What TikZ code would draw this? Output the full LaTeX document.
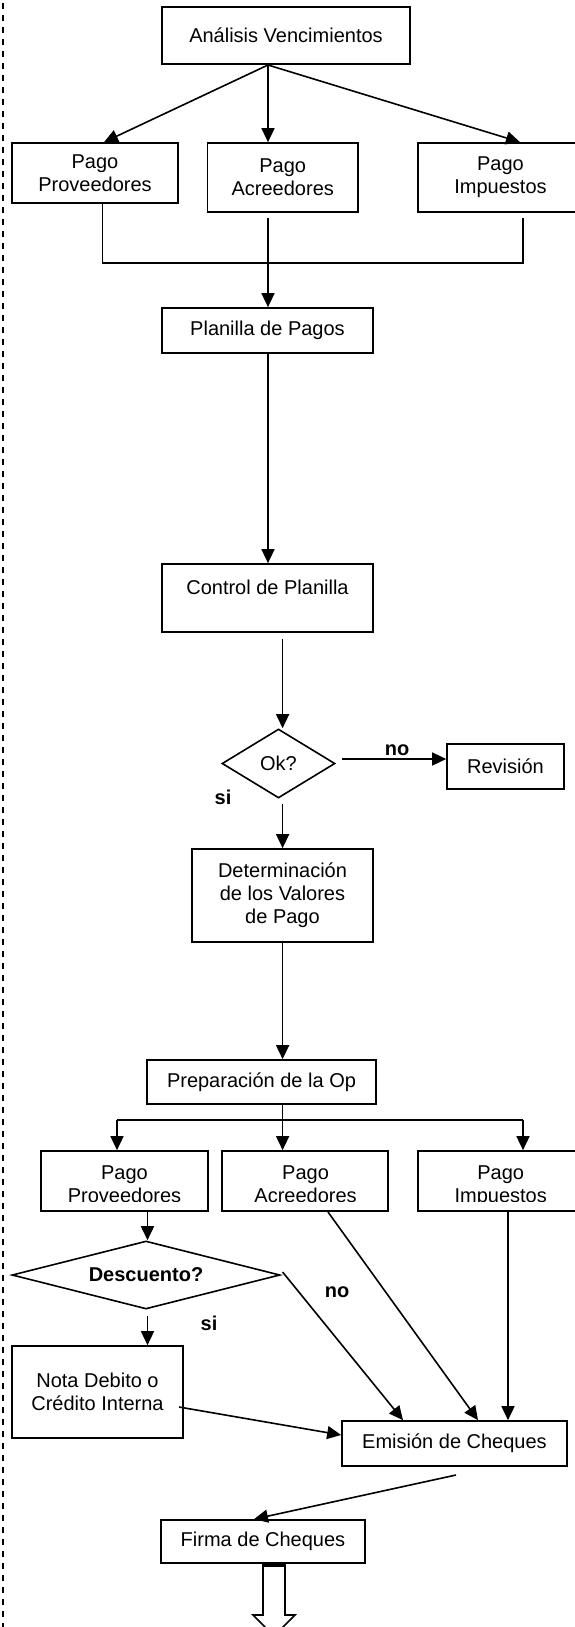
\documentclass[tikz,border=0pt]{standalone}
\usepackage{fontspec}
\setmainfont{Liberation Sans}
\usetikzlibrary{arrows.meta,shapes.geometric}
\begin{document}
\begin{tikzpicture}[x=1pt,y=-1pt,
  every node/.style={font=\fontsize{20}{23}\selectfont},
  box/.style={draw, line width=1.7pt, rectangle, inner sep=0pt, align=center},
  dec/.style={draw, line width=1.6pt, diamond, inner sep=0pt, aspect=3},
  arr/.style={line width=1.6pt, -{Triangle[length=14pt,width=13pt]}},
  ln/.style={line width=1.6pt},
  lbl/.style={font=\fontsize{20}{23}\selectfont\bfseries, inner sep=0pt},
  txt/.style={inner sep=0pt, align=center}]
\useasboundingbox (0,0) rectangle (574,1627);
\fill[white] (0,0) rectangle (574,1627);

% dashed margin line
\draw[line width=2pt, dash pattern=on 6pt off 6pt, dash phase=-3pt] (2.7,0) -- (2.7,1627);

% top part
\node[box, minimum width=248pt, minimum height=57pt] (ana) at (286,35.5) {Análisis Vencimientos};
\node[box, minimum width=166pt, minimum height=60pt] (pp1) at (95,173) {Pago\\Proveedores};
\node[box, minimum width=150.5pt, minimum height=69pt] (pa1) at (282.75,177.5) {Pago\\Acreedores};
\node[box, minimum width=165pt, minimum height=69pt] (pi1) at (500.5,177.5) {Pago\\Impuestos};

\coordinate (a0) at (268,65);
\draw[arr] (a0) -- ([xshift=9pt]pp1.north);
\draw[arr] (a0) -- (a0 |- pa1.north);
\draw[arr] (a0) -- ([xshift=19.5pt]pi1.north);

\node[box, minimum width=211pt, minimum height=45pt] (pla) at (267.5,330.5) {Planilla de Pagos};
\coordinate (c1) at (102.5,203);
\coordinate (j1) at (268,263);
\coordinate (c2) at (523,218);
\coordinate (c3) at (268,218);
\draw[ln] (c1) |- (j1) -| (c2);
\draw[arr] (c3) -- (c3 |- pla.north);

\node[box, minimum width=211pt, minimum height=68pt] (ctl) at (267.5,598) {};
\node[txt] (ctlt) at (267.5,587) {Control de Planilla};
\draw[arr] (pla.south -| c3) -- (ctl.north -| c3);

\coordinate (c4) at (282.6,639);
\node[dec, minimum width=113pt, minimum height=69pt] (ok) at (278.5,763.5) {Ok?};
\draw[arr] (c4) -- (c4 |- ok.north);

\node[box, minimum width=117pt, minimum height=45pt] (rev) at (505.5,766.5) {Revisión};
\coordinate (c5) at (342,759);
\draw[arr] (c5) -- (c5 -| rev.west);
\node[lbl] (no1) at (397,750) {no};
\node[lbl] (si1) at (223,797) {si};

\coordinate (c6) at (282.6,804);
\node[box, minimum width=181pt, minimum height=93pt] (det) at (282.5,895.5) {Determinación\\de los Valores\\de Pago};
\draw[arr] (c6) -- (c6 |- det.north);

\node[box, minimum width=229pt, minimum height=44pt] (prep) at (261.5,1082) {Preparación de la Op};
\draw[arr] (det.south -| c6) -- (prep.north -| c6);

% second row
\node[box, minimum width=167pt, minimum height=60pt] (pp2) at (124.5,1181) {};
\node[box, minimum width=166pt, minimum height=60pt] (pa2) at (305,1181) {};
\node[box, minimum width=165pt, minimum height=60pt] (pi2) at (500.5,1181) {};
\begin{scope}
\clip (0,1151) rectangle (574,1201);
\node[txt] (pp2t) at (124.5,1184) {Pago\\Proveedores};
\node[txt] (pa2t) at (305.6,1184) {Pago\\Acreedores};
\node[txt] (pi2t) at (500.7,1186) {Pago\\Impuestos};
\end{scope}

\coordinate (c7) at (282.6,1120);
\coordinate (hl) at (117,1120);
\coordinate (hr) at (523,1120);
\draw[ln] (prep.south -| c7) -- (c7);
\draw[ln] (hl) -- (hr);
\draw[arr] (hl) -- (hl |- pp2.north);
\draw[arr] (c7) -- (c7 |- pa2.north);
\draw[arr] (hr) -- (hr |- pi2.north);

\node[dec, minimum width=268pt, minimum height=68pt, aspect=4] (desc) at (146,1275) {\bfseries Descuento?};
\coordinate (c8) at (147.5,1211);
\draw[arr] (pp2.south -| c8) -- (c8 |- desc.north);

\node[box, minimum width=171pt, minimum height=92pt] (nota) at (97.5,1392) {Nota Debito o\\Crédito Interna};
\coordinate (c9) at (147.5,1316);
\draw[arr] (c9) -- (c9 |- nota.north);
\node[lbl] (si2) at (209,1323) {si};

\node[box, minimum width=225pt, minimum height=45pt] (emi) at (454.5,1443.5) {Emisión de Cheques};
\coordinate (c10) at (282.6,1272);
\draw[arr] (c10) -- ([xshift=-51.5pt]emi.north);
\node[lbl] (no2) at (337,1292) {no};
\coordinate (c11) at (328,1212);
\draw[arr] (c11) -- ([xshift=23.5pt]emi.north);
\coordinate (c12) at (508,1211);
\draw[arr] (c12) -- (c12 |- emi.north);
\coordinate (c13) at (179,1407);
\draw[arr] (c13) -- ([yshift=8.5pt]emi.west);

\node[box, minimum width=204pt, minimum height=43pt] (fir) at (263,1541.5) {Firma de Cheques};
\coordinate (c14) at (456,1475);
\draw[arr] (c14) -- ([xshift=-9pt]fir.north);

% block arrow
\coordinate (ba) at (274,1563);
\draw[line width=1.6pt, fill=white, line join=miter]
  (ba) ++(-11,0) -- ++(0,52) -- ++(-10,0) -- ++(21,21) -- ++(21,-21) -- ++(-10,0) -- ++(0,-52);
\draw[line width=4pt] ([xshift=-11pt,yshift=-2pt]ba) -- ([xshift=11pt,yshift=-2pt]ba);
\end{tikzpicture}
\end{document}
